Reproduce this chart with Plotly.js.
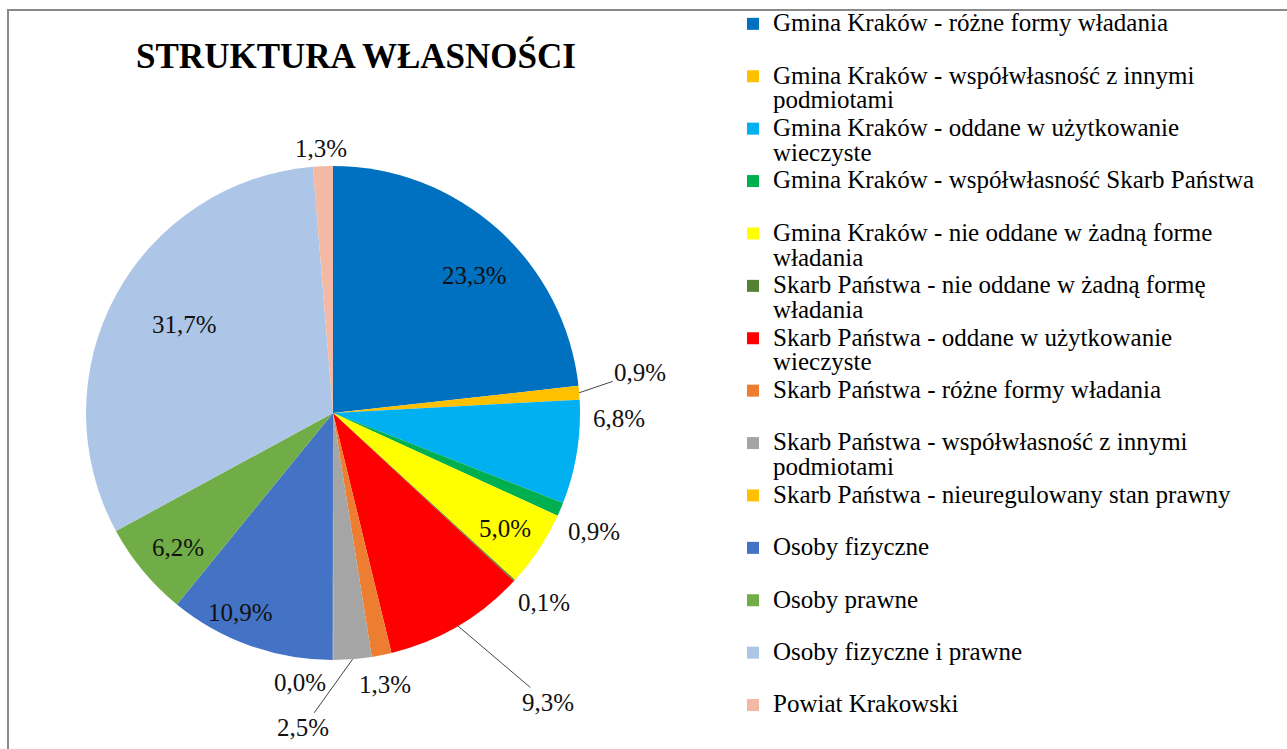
<!DOCTYPE html>
<html>
<head>
<meta charset="utf-8">
<script src="https://cdn.plot.ly/plotly-3.0.1.min.js"></script>
<style>
  html, body { margin: 0; padding: 0; background: #fff; overflow: hidden; }
  #chart { width: 1287px; height: 749px; }
  #frame { position: absolute; left: 7px; top: 9px; width: 1290px; height: 760px;
           border-top: 2px solid #8a8a8a; border-left: 2px solid #8a8a8a; pointer-events: none; }
</style>
</head>
<body>
<div id="chart"></div>
<div id="frame"></div>
<script>
// Data (percent of area)
const categories = [
  'Gmina Kraków - różne formy władania',
  'Gmina Kraków - współwłasność z innymi podmiotami',
  'Gmina Kraków - oddane w użytkowanie wieczyste',
  'Gmina Kraków - współwłasność Skarb Państwa',
  'Gmina Kraków - nie oddane w żadną forme władania',
  'Skarb Państwa - nie oddane w żadną formę władania',
  'Skarb Państwa - oddane w użytkowanie wieczyste',
  'Skarb Państwa - różne formy władania',
  'Skarb Państwa - współwłasność z innymi podmiotami',
  'Skarb Państwa - nieuregulowany stan prawny',
  'Osoby fizyczne',
  'Osoby prawne',
  'Osoby fizyczne i prawne',
  'Powiat Krakowski'
];
const shares = [23.3, 0.9, 6.8, 0.9, 5.0, 0.1, 9.3, 1.3, 2.5, 0.03, 10.9, 6.2, 31.7, 1.3];
const wrappedTail = ['', 'podmiotami', 'wieczyste', '', 'władania', 'władania', 'wieczyste', '', 'podmiotami', '', '', '', '', ''];
const colors = ['#0070C0', '#FFC000', '#00B0F0', '#00B050', '#FFFF00', '#548235', '#FF0000',
                '#ED7D31', '#A5A5A5', '#FFC000', '#4472C4', '#70AD47', '#ADC5E7', '#F4B9A4'];

// label placement (style): radial factor, angle shift in degrees, leader line
const labelRadius = [0.80, 1.255, 1.16, 1.16, 0.84, 1.15, 1.46, 1.12, 1.28, 1.10, 0.89, 0.83, 0.70, 1.07];
const labelAngleShift = [4, -2.9, -8, 1.5, 0.4, -0.8, -6.2, 0.6, 9.9, 7, 5.2, -1.4, 2.3, -0.3];
const labelLeader = [false, true, false, false, false, false, true, false, true, false, false, false, false, false];

const SPAN = s => '<span style="font-size:25px">' + s + '</span>';
const legendLabels = categories.map((c, i) => {
  const tail = wrappedTail[i];
  const head = tail ? c.slice(0, c.length - tail.length).trim() : c;
  return SPAN(head) + '<br>' + (tail ? SPAN(tail) : ' ');
});

const W = 1287, H = 749;
const cx = 333, cy = 413, r = 247;

const trace = {
  type: 'pie',
  labels: legendLabels,
  values: shares,
  sort: false,
  direction: 'clockwise',
  rotation: 0,
  marker: { colors: colors, line: { width: 0 } },
  textinfo: 'none',
  hoverinfo: 'label+value',
  domain: { x: [(cx - r) / W, (cx + r) / W], y: [(H - cy - r) / H, (H - cy + r) / H] },
  automargin: false
};

// data labels placed from the slice geometry
const total = shares.reduce((a, b) => a + b, 0);
const annotations = [];
let cum = 0;
shares.forEach((v, i) => {
  const mid = (cum + v / 2) / total * 360;
  cum += v;
  const th = (mid + labelAngleShift[i]) * Math.PI / 180;
  const tx = cx + labelRadius[i] * r * Math.sin(th);
  const ty = cy - labelRadius[i] * r * Math.cos(th);
  const txt = v.toFixed(1).replace('.', ',') + '%';
  const font = { family: 'Liberation Serif', size: 25, color: '#111' };
  if (labelLeader[i]) {
    const m = mid * Math.PI / 180;
    const hx = cx + r * Math.sin(m);
    const hy = cy - r * Math.cos(m);
    annotations.push({
      xref: 'paper', yref: 'paper', x: hx / W, y: 1 - hy / H,
      ax: tx - hx, ay: ty - hy, text: txt, font: font,
      showarrow: true, arrowhead: 0, arrowwidth: 1, arrowcolor: '#444', standoff: 0
    });
  } else {
    annotations.push({
      xref: 'paper', yref: 'paper', x: tx / W, y: 1 - ty / H,
      xanchor: 'center', yanchor: 'middle', text: txt, font: font, showarrow: false
    });
  }
});

const layout = {
  width: W, height: H,
  margin: { l: 0, r: 0, t: 0, b: 0 },
  paper_bgcolor: '#fff',
  title: {
    text: '<b>STRUKTURA WŁASNOŚCI</b>',
    font: { family: 'Liberation Serif', size: 35, color: '#000' },
    x: 356 / W, xanchor: 'center', xref: 'paper',
    y: 1 - 56 / H, yanchor: 'middle', yref: 'container'
  },
  annotations: annotations,
  showlegend: true,
  legend: {
    x: 733 / W, xanchor: 'left',
    y: 1 - 11 / H, yanchor: 'top',
    valign: 'top',
    font: { family: 'Liberation Serif', size: 19, color: '#000' },
    bgcolor: 'rgba(0,0,0,0)',
    traceorder: 'normal'
  }
};

Plotly.newPlot('chart', [trace], layout, { displayModeBar: false, responsive: false });
</script>
</body>
</html>
